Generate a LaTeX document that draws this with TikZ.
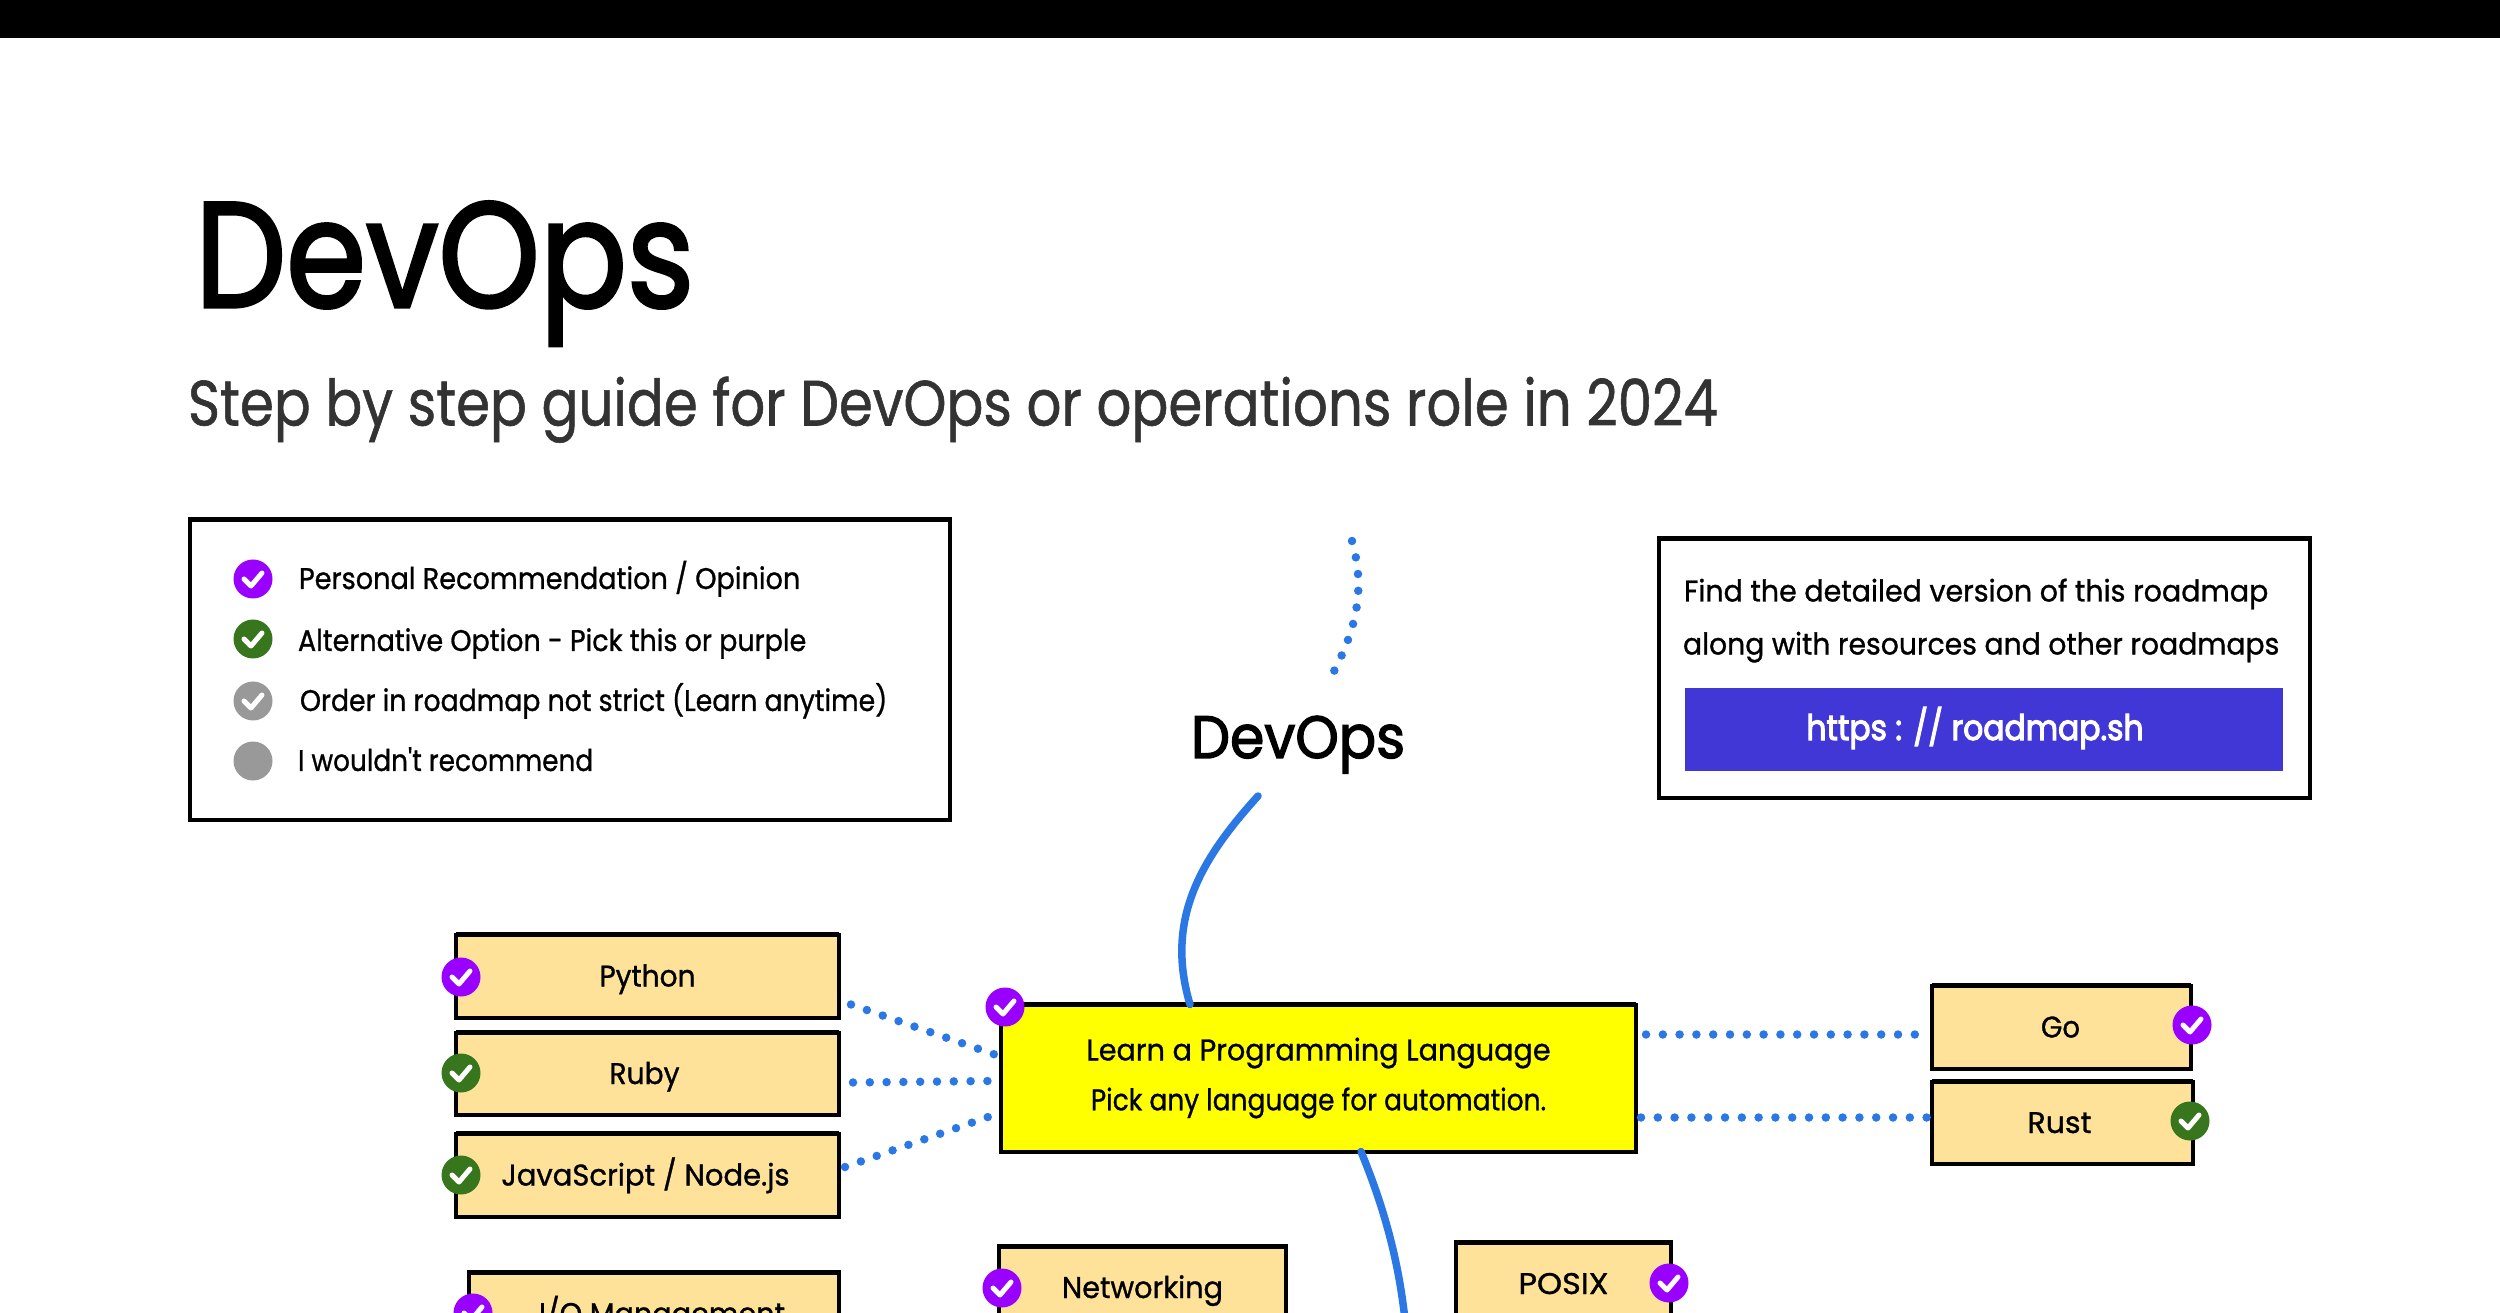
\documentclass[tikz,border=0pt]{standalone}
\usepackage{graphicx}
\usepackage{fontspec}
\newfontfamily\hand[FakeBold=1.0]{Poppins}
\newfontfamily\handb[FakeBold=2.2]{Poppins}
\newfontfamily\handc[FakeBold=3.2]{Poppins}
\newcommand{\fsz}[1]{\hand\fontsize{#1}{14.2}\selectfont}
\newcommand{\fszb}[1]{\handb\fontsize{#1}{14.2}\selectfont}
\newcommand{\fszc}[1]{\handc\fontsize{#1}{14.2}\selectfont}
\usetikzlibrary{calc}
\newlength\pxu \setlength\pxu{0.01cm}
\newsavebox\fitb
\newcommand{\fitw}[2]{\sbox\fitb{#2}\pgfmathsetmacro\fitr{#1*0.28453/\the\wd\fitb}\scalebox{\fitr}[1]{\usebox\fitb}}
\definecolor{boxfill}{HTML}{FFE299}
\definecolor{mainfill}{HTML}{FFFF00}
\definecolor{linkblue}{HTML}{2B78E4}
\definecolor{bpurple}{HTML}{9900FF}
\definecolor{bgreen}{HTML}{38761D}
\definecolor{bgray}{HTML}{999999}
\definecolor{btnblue}{HTML}{4136D6}
\definecolor{subgray}{HTML}{333333}
\tikzset{
  x=0.01cm, y=-0.01cm,
  every node/.style={inner sep=0pt, outer sep=0pt},
  heavytop/.style={append after command={(\tikzlastnode.north west) edge[draw=black, line width=5\pxu] (\tikzlastnode.north east)}},
  panel/.style={draw=black, line width=4\pxu, fill=white, rectangle, heavytop},
  topic/.style={draw=black, line width=4\pxu, fill=boxfill, rectangle, text height=21\pxu, text depth=0pt, font=\fsz{8.5}, heavytop},
  maintopic/.style={topic, fill=mainfill, text height={}, text depth={}, align=center},
  txt/.style={text height=21\pxu, text depth=0pt, anchor=center, font=\fsz{8.5}},
  dotlink/.style={draw=linkblue, line width=8.5\pxu, line cap=round, dash pattern=on 0pt off 16.8\pxu},
  solidlink/.style={draw=linkblue, line width=7.5\pxu, line cap=round},
  dot/.style={circle, minimum size=39\pxu, fill=#1},
  tick/.style={dot=#1, path picture={\draw[white, line width=5\pxu, line cap=round, line join=round]
     ($(path picture bounding box.center)+(-9,0)$) -- ($(path picture bounding box.center)+(-2,7)$) -- ($(path picture bounding box.center)+(9,-6)$);}},
}
\begin{document}
\begin{tikzpicture}
\path[use as bounding box, clip] (0,0) rectangle (2500,1313);
\fill[white] (0,0) rectangle (2500,1313);
\fill[black] (0,0) rectangle (2500,38);

% headings
\node[anchor=base west, font=\fszb{42.5}] (title) at (195,307) {\fitw{499}{DevOps}};
\node[anchor=base west, text=subgray, font=\fsz{18.2}] (subtitle) at (188,425.5) {\fitw{1529}{Step by step guide for DevOps or operations role in 2024}};

% legend
\node[panel, minimum width=760\pxu, minimum height=300\pxu] (legend) at (570,669.5) {};
\node[txt, anchor=west] (l1) at (299,578.5) {\fitw{501}{Personal Recommendation / Opinion}};
\node[txt, anchor=west] (l2) at (298,640.5) {\fitw{508}{Alternative Option - Pick this or purple}};
\node[txt, anchor=west] (l3) at (300,700.5) {\fitw{587}{Order in roadmap not strict (Learn anytime)}};
\node[txt, anchor=west] (l4) at (298,760.5) {\fitw{295}{I wouldn't recommend}};

% link box
\node[panel, minimum width=651\pxu, minimum height=259\pxu] (linkbox) at (1984.5,668) {};
\node[txt, anchor=west] (r1) at (1684,591) {\fitw{584}{Find the detailed version of this roadmap}};
\node[txt, anchor=west] (r2) at (1683,644) {\fitw{596}{along with resources and other roadmaps}};
\node[rectangle, fill=btnblue, minimum width=598\pxu, minimum height=83\pxu] (button) at (1984,729.5) {};
\node[txt, text=white, font=\fszc{10}, text height=24\pxu] (url) at (1975,728) {\fitw{337}{https : // roadmap.sh}};

% central label
\node[txt, font=\fszb{17}, text height=46\pxu] (devops) at (1298,735) {\fitw{214}{DevOps}};
\coordinate (dtop) at (1352,541);
\coordinate (dbot) at (1406,1330);

% topics
\node[topic, minimum width=383\pxu, minimum height=83\pxu] (python) at (647.5,976) {\fitw{96}{Python}};
\node[topic, minimum width=383\pxu, minimum height=82\pxu] (ruby) at (647.5,1073.5) {\hspace*{-6\pxu}\fitw{70}{Ruby}};
\node[topic, minimum width=383\pxu, minimum height=83\pxu] (js) at (647.5,1175) {\hspace*{-4\pxu}\fitw{288}{JavaScript / Node.js}};
\node[maintopic, minimum width=635\pxu, minimum height=147\pxu] (main) at (1318.5,1078) {\fitw{464}{Learn a Programming Language}\\\fitw{455}{Pick any language for automation.}};
\node[topic, minimum width=259\pxu, minimum height=83\pxu] (go) at (2061.5,1027) {\hspace*{-2\pxu}\fitw{39}{Go}};
\node[topic, minimum width=261\pxu, minimum height=82\pxu] (rust) at (2062.5,1122.5) {\hspace*{-6\pxu}\fitw{64}{Rust}};
\node[topic, minimum width=287\pxu, minimum height=83\pxu] (net) at (1142.5,1287.5) {\fitw{161}{Networking}};
\node[topic, minimum width=215\pxu, minimum height=83\pxu] (posix) at (1563.5,1283.5) {\fitw{90}{POSIX}};
\node[topic, minimum width=370\pxu, minimum height=83\pxu] (io) at (654,1313.5) {\hspace*{16\pxu}\fitw{246}{I/O Management}};

% connectors
\draw[dotlink] (dtop) .. controls (1366,590) and (1356,630) .. ($(devops.north)+(34,-37)$);
\draw[solidlink] ($(devops.south)+(-40,38)$) .. controls (1200,860) and (1165,920) .. ($(main.north west)+(189,0)$);
\draw[solidlink] ($(main.south west)+(360,0)$) .. controls (1385,1210) and (1400,1265) .. (dbot);
\draw[dotlink] ($(python.south east)+(12,-13)$) -- ($(main.west)+(-5,-23)$);
\draw[dotlink] ($(ruby.east)+(14,9)$) -- ($(main.west)+(-12,3)$);
\draw[dotlink] ($(js.east)+(6,-8)$) -- ($(main.west)+(-13,39)$);
\draw[dotlink] ($(main.east)+(10,-43.5)$) -- ($(go.west)+(-15,7.5)$);
\draw[dotlink] ($(main.east)+(5,39.5)$) -- ($(rust.west)+(-5,-5)$);

% badges
\node[tick=bpurple] (b1) at (253,579) {};
\node[tick=bgreen] (b2) at (253,639) {};
\node[tick=bgray] (b3) at (253,701) {};
\node[dot=bgray] (b4) at (253,761) {};
\node[tick=bpurple] (bpy) at (461,977) {};
\node[tick=bgreen] (brb) at (461,1073) {};
\node[tick=bgreen] (bjs) at (461,1175) {};
\node[tick=bpurple] (bmain) at (1005,1007) {};
\node[tick=bpurple] (bgo) at (2192,1025) {};
\node[tick=bgreen] (brs) at (2190,1121) {};
\node[tick=bpurple] (bnet) at (1002,1288) {};
\node[tick=bpurple] (bpos) at (1669,1283) {};
\node[tick=bpurple] (bio) at (473,1313) {};
\end{tikzpicture}
\end{document}
